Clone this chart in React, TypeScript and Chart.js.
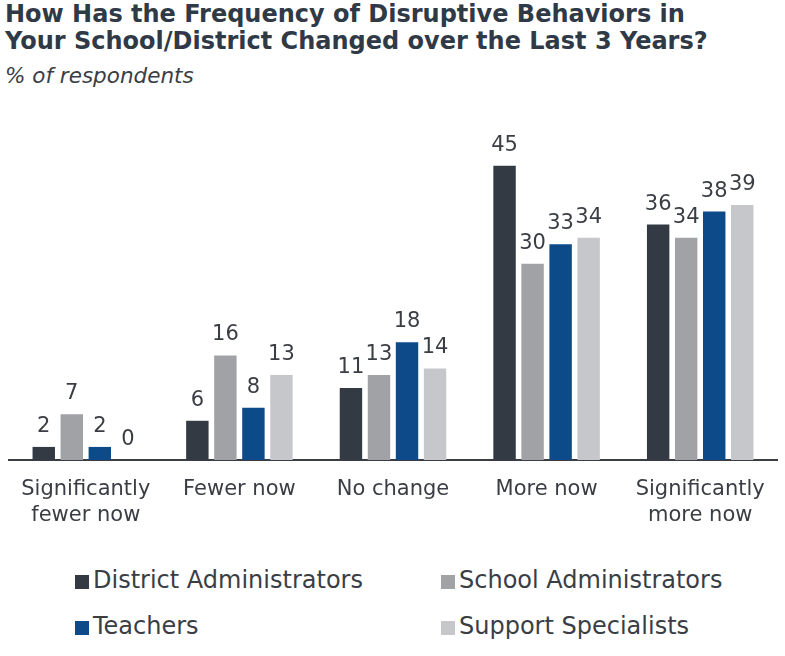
import React, { useEffect, useRef } from "react";
import { Chart, registerables } from "chart.js";

Chart.register(...registerables);

const categories: string[][] = [
  ["Significantly", "fewer now"],
  ["Fewer now"],
  ["No change"],
  ["More now"],
  ["Significantly", "more now"],
];
const seriesNames = ["District Administrators", "School Administrators", "Teachers", "Support Specialists"];
const districtAdmins = [2, 6, 11, 45, 36];
const schoolAdmins = [7, 16, 13, 30, 34];
const teachers = [2, 8, 18, 33, 38];
const supportSpecialists = [0, 13, 14, 34, 39];
const seriesColors = ["#333a43", "#a0a2a5", "#0c4a8a", "#c5c7ca"];

const TEXT = "#3a3e44";
const FONT = "'DejaVu Sans', Verdana, sans-serif";

const valueLabels = {
  id: "valueLabels",
  afterDatasetsDraw(chart: any) {
    const ctx = chart.ctx;
    ctx.save();
    ctx.font = `21px ${FONT}`;
    ctx.fillStyle = TEXT;
    ctx.textAlign = "center";
    ctx.textBaseline = "alphabetic";
    chart.data.datasets.forEach((ds: any, i: number) => {
      const meta = chart.getDatasetMeta(i);
      meta.data.forEach((bar: any, j: number) => {
        ctx.fillText(String(ds.data[j]), bar.x, bar.y - 15);
      });
    });
    ctx.restore();
  },
};

export default function App() {
  const ref = useRef<HTMLCanvasElement | null>(null);
  useEffect(() => {
    if (!ref.current) return;
    const data = [districtAdmins, schoolAdmins, teachers, supportSpecialists];
    const chart = new Chart(ref.current, {
      type: "bar",
      data: {
        labels: categories,
        datasets: data.map((d, i) => ({
          label: seriesNames[i],
          data: d,
          backgroundColor: seriesColors[i],
          categoryPercentage: 0.73,
          barPercentage: 0.8,
        })),
      },
      options: {
        animation: false,
        responsive: false,
        maintainAspectRatio: false,
        layout: { padding: { left: 9, right: 8, top: 0, bottom: 0 } },
        plugins: { legend: { display: false }, tooltip: { enabled: false }, title: { display: false } },
        scales: {
          x: {
            grid: { display: false, drawTicks: false },
            border: { display: true, color: "#3a3e44", width: 2 },
            ticks: {
              color: TEXT,
              font: { family: FONT, size: 21, lineHeight: 1.25 },
              padding: 16,
              maxRotation: 0,
              autoSkip: false,
            },
            afterFit: (scale: any) => {
              scale.height = 80;
            },
          },
          y: {
            display: false,
            min: 0,
            max: 52,
          },
        },
      },
      plugins: [valueLabels],
    });
    return () => chart.destroy();
  }, []);

  const legendItem = (i: number, left: number, top: number) => (
    <div
      key={i}
      style={{ position: "absolute", left, top, height: 28, display: "flex", alignItems: "center" }}
    >
      <div style={{ width: 14, height: 14, background: seriesColors[i], marginRight: 4, marginTop: 3 }} />
      <span style={{ font: `24px ${FONT}`, lineHeight: "28px", color: TEXT, whiteSpace: "nowrap" }}>
        {seriesNames[i]}
      </span>
    </div>
  );

  return (
    <div style={{ position: "absolute", left: 0, top: 0, width: 785, height: 656, background: "#fff", overflow: "hidden" }}>
      <div
        style={{
          position: "absolute",
          left: 5,
          top: 1,
          font: `bold 24px ${FONT}`,
          lineHeight: "27px",
          color: "#303a47",
          whiteSpace: "nowrap",
        }}
      >
        How Has the Frequency of Disruptive Behaviors in
        <br />
        Your School/District Changed over the Last 3 Years?
      </div>
      <div
        style={{
          position: "absolute",
          left: 5,
          top: 64,
          font: `italic 21.5px ${FONT}`,
          lineHeight: "24px",
          color: TEXT,
        }}
      >
        % of respondents
      </div>
      <canvas ref={ref} width={785} height={420} style={{ position: "absolute", left: 0, top: 120, width: 785, height: 420 }} />
      {legendItem(0, 75, 566)}
      {legendItem(1, 441, 566)}
      {legendItem(2, 75, 612)}
      {legendItem(3, 441, 612)}
    </div>
  );
}
